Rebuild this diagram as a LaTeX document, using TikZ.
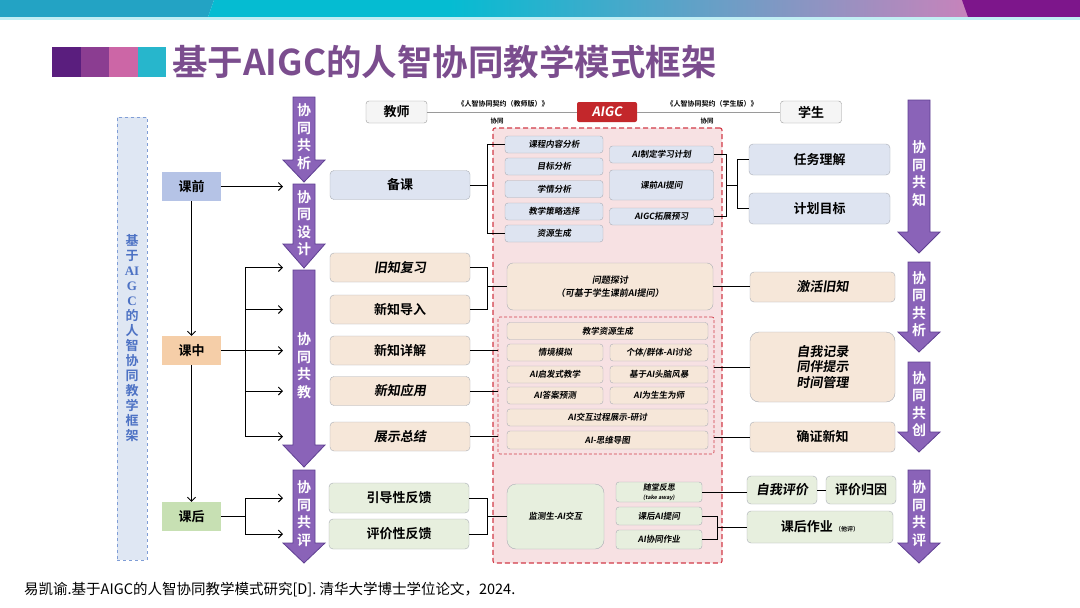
\documentclass[tikz,border=0pt]{standalone}
\usepackage{fontspec}
\setmainfont{Noto Sans CJK SC}[BoldFont={Noto Sans CJK SC Bold}]
\newfontfamily\slantbf{Noto Sans CJK SC Bold}[FakeSlant=0.15]
\newfontfamily\latinserif{Liberation Serif}
\usepackage{tikz}
\usetikzlibrary{arrows.meta,positioning}

\newcommand\fsz[2]{\fontsize{#1}{#2}\selectfont}

\definecolor{bandteal}{HTML}{23A3C4}
\definecolor{bandcyan}{HTML}{05BCD2}
\definecolor{bandpink}{HTML}{C783BB}
\definecolor{bandpurple}{HTML}{7D168B}
\definecolor{sqa}{HTML}{5A1E7E}
\definecolor{sqb}{HTML}{8B3D91}
\definecolor{sqc}{HTML}{CC66A6}
\definecolor{sqd}{HTML}{27B6CC}
\definecolor{titlecol}{HTML}{7B4D8E}
\definecolor{flowfill}{HTML}{8A63B8}
\definecolor{flowline}{HTML}{5F3F92}
\definecolor{sidefill}{HTML}{DFE7F3}
\definecolor{sideline}{HTML}{7F9DD6}
\definecolor{sidetext}{HTML}{4D72C4}
\definecolor{qianfill}{HTML}{B5C3E6}
\definecolor{zhongfill}{HTML}{F5CEA8}
\definecolor{houfill}{HTML}{C7E0B3}
\definecolor{bluebox}{HTML}{DEE4F1}
\definecolor{peachbox}{HTML}{F6E7D9}
\definecolor{greenbox}{HTML}{E7EFDE}
\definecolor{boxline}{HTML}{A9ADB5}
\definecolor{zonefill}{HTML}{F7E1E3}
\definecolor{zoneline}{HTML}{D23B48}
\definecolor{aigcred}{HTML}{C3272B}
\definecolor{greyline}{HTML}{9A9A9A}

\begin{document}
\begin{tikzpicture}[
    x=1pt, y=-1pt,
    stage/.style={rectangle, minimum width=59pt, minimum height=29pt, inner sep=0pt, font=\bfseries\fsz{13}{13}},
    tbox/.style={rectangle, rounded corners=4pt, draw=boxline, minimum width=140pt, minimum height=29pt, inner sep=0pt, font=\bfseries\fsz{13}{13}},
    rbox/.style={tbox, minimum width=145pt, minimum height=30pt},
    ibox/.style={rectangle, rounded corners=3pt, draw=boxline, minimum height=17pt, inner sep=0pt, font=\slantbf\fsz{8.5}{10}},
    tag/.style={rectangle, rounded corners=3pt, draw=greyline, fill=gray!8, minimum width=61pt, minimum height=22pt, inner sep=0pt, font=\bfseries\fsz{13}{13}},
    zone/.style={rectangle, rounded corners=2pt, draw=zoneline, fill=zonefill, line width=1.1pt, dash pattern=on 5pt off 3pt, inner sep=0pt},
    flow/.style={fill=flowfill, draw=flowline, line width=0.8pt},
    flowtxt/.style={text=white, font=\bfseries\fsz{14}{17.5}, align=center, inner sep=0pt},
    small/.style={font=\bfseries\fsz{7}{7}, inner sep=1pt},
    link/.style={line width=0.9pt},
    arr/.style={link, -{Straight Barb[length=4pt,width=8pt]}},
]
    \useasboundingbox (0,0) rectangle (1080,608);
    \fill[white] (0,0) rectangle (1080,608);

    % top band
    \fill[bandteal] (0,0) -- (214,0) -- (208,17) -- (0,17) -- cycle;
    \fill[bandcyan] (214,0) -- (451,0) -- (451,17) -- (208,17) -- cycle;
    \shade[left color=bandcyan, right color=bandpink] (450,0) rectangle (968,17);
    \fill[bandpurple] (962,0) -- (1080,0) -- (1080,17) -- (968,17) -- cycle;
    \fill[bandcyan!25] (0,17) rectangle (1080,19.5);

    % title
    \fill[sqa] (52,47) rectangle (80.5,77);
    \fill[sqb] (80.5,47) rectangle (109,77);
    \fill[sqc] (109,47) rectangle (137.5,77);
    \fill[sqd] (137.5,47) rectangle (166,77);
    \node[anchor=west, text=titlecol, font=\bfseries\fsz{35.5}{35.5}, inner sep=0pt] (title) at (172,62) {基于AIGC的人智协同教学模式框架};

    % side bar
    \node[rectangle, draw=sideline, fill=sidefill, dashed, line width=0.9pt, minimum width=30pt, minimum height=443pt] (side) at (132,338.5) {};
    \node[text=sidetext, font=\bfseries\fsz{13}{15}, align=center, inner sep=0pt] (sidetxt) at (side) {基\\于\\{\latinserif AI}\\{\latinserif G}\\{\latinserif C}\\的\\人\\智\\协\\同\\教\\学\\框\\架};

    % purple flow arrows
    \foreach \cx/\top/\hd/\tip/\nm/\txt in {
        304/97/160/182/fa/协\\同\\共\\析,
        304/184/244/268/fb/协\\同\\设\\计,
        304/270/445/467/fc/协\\同\\共\\教,
        304/470/543/563/fd/协\\同\\共\\评,
        919/100/232/253/fe/协\\同\\共\\知,
        919/262/332/352/ff/协\\同\\共\\析,
        919/362/432/452/fg/协\\同\\共\\创,
        919/470/543/563/fh/协\\同\\共\\评} {
        \draw[flow] (\cx-11,\top) -- (\cx+11,\top) -- (\cx+11,\hd) -- (\cx+21,\hd) -- (\cx,\tip) -- (\cx-21,\hd) -- (\cx-11,\hd) -- cycle;
        \node[flowtxt] (\nm) at (\cx,{(\top+\tip)/2-3}) {\txt};
    }

    % stages
    \node[stage, fill=qianfill] (kq) at (191.5,186.5) {课前};
    \node[stage, fill=zhongfill] (kz) at (191.5,350.5) {课中};
    \node[stage, fill=houfill] (kh) at (191.5,516.5) {课后};

    % teacher side
    \node[tbox, fill=bluebox] (bk) at (400,185) {备课};
    \node[tbox, fill=peachbox, font=\slantbf\fsz{13}{13}] (jzfx) at (400,267.5) {旧知复习};
    \node[tbox, fill=peachbox] (xzdr) at (400,309.5) {新知导入};
    \node[tbox, fill=peachbox] (xzxj) at (400,350.5) {新知详解};
    \node[tbox, fill=peachbox, font=\slantbf\fsz{13}{13}] (xzyy) at (400,391) {新知应用};
    \node[tbox, fill=peachbox, font=\slantbf\fsz{13}{13}] (zszj) at (400,436.5) {展示总结};
    \node[tbox, fill=greenbox, minimum height=30pt] (ydfk) at (399,498) {引导性反馈};
    \node[tbox, fill=greenbox, minimum height=30pt] (pjfk) at (399,534) {评价性反馈};

    % header row
    \node[tag] (js) at (396.5,112) {教师};
    \node[rectangle, rounded corners=2pt, fill=aigcred, text=white, minimum width=60pt, minimum height=20pt, inner sep=0pt, font=\slantbf\fsz{13}{13}] (aigc) at (607,112) {AIGC};
    \node[tag] (xs) at (811,112) {学生};
    \draw[greyline, line width=0.6pt] (js) -- (aigc);
    \draw[greyline, line width=0.6pt] (aigc) -- (xs);
    \node[small] (qyjs) at (503,103.5) {《人智协同契约（教师版）》};
    \node[small, font=\bfseries\fsz{6.5}{6.5}] (xtjs) at (497,121) {协同};
    \node[small] (qyxs) at (712,103.5) {《人智协同契约（学生版）》};
    \node[small, font=\bfseries\fsz{6.5}{6.5}] (xtxs) at (707,121) {协同};

    % AIGC zone
    \node[zone, minimum width=229pt, minimum height=435pt] (zone) at (607.5,345.5) {};
    \node[zone, line width=0.7pt, dash pattern=on 3pt off 2pt, minimum width=216pt, minimum height=137pt] (inzone) at (606,385.5) {};

    % before class items
    \node[ibox, fill=bluebox, minimum width=98pt] (kcfx) at (554,144.5) {课程内容分析};
    \node[ibox, fill=bluebox, minimum width=98pt] (mbfx) at (554,166.5) {目标分析};
    \node[ibox, fill=bluebox, minimum width=98pt] (xqfx) at (554,189) {学情分析};
    \node[ibox, fill=bluebox, minimum width=98pt] (clxz) at (554,211.5) {教学策略选择};
    \node[ibox, fill=bluebox, minimum width=98pt] (zysc) at (554,233.5) {资源生成};
    \node[ibox, fill=bluebox, minimum width=104pt] (zdjh) at (661.5,154.5) {AI制定学习计划};
    \node[ibox, fill=bluebox, minimum width=104pt, minimum height=30pt] (kqtw) at (661.5,185) {课前AI提问};
    \node[ibox, fill=bluebox, minimum width=104pt] (tzyx) at (661.5,216.5) {AIGC拓展预习};
    \node[rbox, fill=bluebox, minimum width=141pt, minimum height=31pt] (rwlj) at (819.5,159.5) {任务理解};
    \node[rbox, fill=bluebox, minimum width=141pt, minimum height=31pt] (jhmb) at (819.5,208.5) {计划目标};

    % in class items
    \node[ibox, fill=peachbox, rounded corners=6pt, minimum width=206pt, minimum height=47pt, align=center, font=\slantbf\fsz{9}{13}] (wtjt) at (610,286.5) {问题探讨\\（可基于学生课前AI提问）};
    \node[ibox, fill=peachbox, minimum width=201pt] (zyss) at (607.5,331) {教学资源生成};
    \node[ibox, fill=peachbox, minimum width=96pt] (qjmn) at (555,352.5) {情境模拟};
    \node[ibox, fill=peachbox, minimum width=98pt] (gtql) at (659,352.5) {个体/群体-AI讨论};
    \node[ibox, fill=peachbox, minimum width=96pt] (qfjx) at (555,374.5) {AI启发式教学};
    \node[ibox, fill=peachbox, minimum width=98pt] (tnfb) at (659,374.5) {基于AI头脑风暴};
    \node[ibox, fill=peachbox, minimum width=96pt] (dayc) at (555,395.5) {AI答案预测};
    \node[ibox, fill=peachbox, minimum width=98pt] (sswx) at (659,395.5) {AI为生生为师};
    \node[ibox, fill=peachbox, minimum width=201pt] (hdzs) at (607.5,417.5) {AI交互过程展示-研讨};
    \node[ibox, fill=peachbox, minimum width=201pt, minimum height=18pt] (swdt) at (607.5,440) {AI-思维导图};
    \node[rbox, fill=peachbox, font=\slantbf\fsz{13}{13}] (jhjz) at (822.5,287) {激活旧知};
    \node[rbox, fill=peachbox, rounded corners=9pt, minimum height=70pt, align=center, font=\slantbf\fsz{13}{15.5}] (zwjl) at (822.5,367) {自我记录\\同伴提示\\时间管理};
    \node[rbox, fill=peachbox] (qzxz) at (822.5,437) {确证新知};

    % after class items
    \node[ibox, fill=greenbox, rounded corners=9pt, minimum width=97pt, minimum height=65pt] (jcjh) at (555.5,516.5) {监测生-AI交互};
    \node[ibox, fill=greenbox, minimum width=86pt, minimum height=20pt, align=center, font=\slantbf\fsz{8}{8.5}] (stfs) at (659,492) {随堂反思\\{\fsz{5.5}{6}(take away)}};
    \node[ibox, fill=greenbox, minimum width=86pt, minimum height=18pt] (khtw) at (659,516) {课后AI提问};
    \node[ibox, fill=greenbox, minimum width=86pt, minimum height=19pt] (xtzy) at (659,539.5) {AI协同作业};
    \node[tbox, fill=greenbox, minimum width=70pt, minimum height=28pt, font=\slantbf\fsz{13}{13}] (zwpj) at (782,490) {自我评价};
    \node[tbox, fill=greenbox, minimum width=70pt, minimum height=28pt] (pjgy) at (861,490) {评价归因};
    \node[tbox, fill=greenbox, minimum width=146pt, minimum height=32pt] (khzy) at (820,527) {课后作业\,{\fsz{6}{6}（他评）}};

    % stage arrows
    \coordinate (tipx) at (283,0);
    \coordinate (trunk) at (245,0);
    \draw[arr] (kq) -- (kz);
    \draw[arr] (kz) -- (kh);
    \draw[arr] (kq.east) -- (kq.east -| tipx);
    \draw[link] (kz.east) -- (kz.east -| trunk);
    \draw[link] (trunk |- jzfx) -- (trunk |- zszj);
    \foreach \n in {jzfx,xzdr,xzxj,xzyy,zszj}
        \draw[arr] (trunk |- \n) -- (tipx |- \n);
    \draw[link] (kh.east) -- (kh.east -| trunk);
    \draw[link] (trunk |- ydfk) -- (trunk |- pjfk);
    \foreach \n in {ydfk,pjfk}
        \draw[arr] (trunk |- \n) -- (tipx |- \n);

    % brackets into the AIGC zone
    \coordinate (bx) at (487,0);
    \draw[link] (kcfx.west) -- (kcfx.west -| bx) -- (zysc.west -| bx) -- (zysc.west);
    \draw[link] (bk.east) -- (bk.east -| bx);
    \draw[link] (jzfx.east) -- (jzfx.east -| bx) -- (xzdr.east -| bx) -- (xzdr.east);
    \draw[link] (wtjt.west -| bx) -- (wtjt.west);
    \draw[link] (xzxj.east) -- (xzxj.east -| inzone.west);
    \draw[link] (xzyy.east) -- (xzyy.east -| inzone.west);
    \draw[link] (zszj.east) -- (zszj.east -| inzone.west);
    \draw[link] (ydfk.east) -- (ydfk.east -| bx) -- (pjfk.east -| bx) -- (pjfk.east);
    \draw[link] (jcjh.west -| bx) -- (jcjh.west);

    % brackets out to the student side
    \coordinate (rxa) at (726,0);
    \coordinate (rxb) at (737,0);
    \coordinate (rxc) at (717,0);
    \draw[link] (zdjh.east) -- (zdjh.east -| rxa) -- (tzyx.east -| rxa) -- (tzyx.east);
    \draw[link] (kqtw.east -| rxa) -- (kqtw.east -| rxb);
    \draw[link] (rwlj.west) -- (rwlj.west -| rxb) -- (jhmb.west -| rxb) -- (jhmb.west);
    \draw[link] (wtjt.east) -- (wtjt.east -| jhjz.west);
    \draw[link] (inzone.east |- zwjl) -- (zwjl.west);
    \draw[link] (inzone.east |- qzxz) -- (qzxz.west);
    \draw[link] (stfs.east) -- (stfs.east -| zwpj.west);
    \draw[link] (zwpj) -- (pjgy);
    \draw[link] (khtw.east) -- (khtw.east -| rxc) -- (xtzy.east -| rxc) -- (xtzy.east);
    \draw[link] (khzy.west -| rxc) -- (khzy.west);

    % source
    \node[anchor=west, font=\fsz{14.5}{14.5}, inner sep=0pt] (cite) at (24,590) {易凯谕.基于AIGC的人智协同教学模式研究[D]. 清华大学博士学位论文，2024.};
\end{tikzpicture}
\end{document}
